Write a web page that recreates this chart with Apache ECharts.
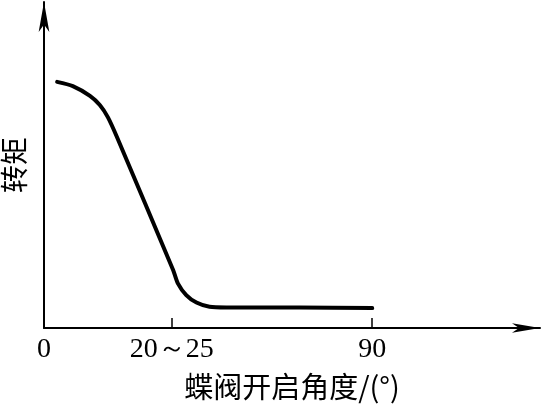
<!DOCTYPE html>
<html>
<head>
<meta charset="utf-8">
<script src="https://cdn.jsdelivr.net/npm/echarts@6/dist/echarts.min.js"></script>
<style>html,body{margin:0;padding:0;background:#fff;}#c{width:543px;height:409px;}</style>
</head>
<body>
<div id="c"></div>
<script>
// Opening angle positions (drawn scale units) and torque (relative units)
var angleX = [3.6, 7.9, 12.6, 15.3, 17.5, 20.0, 35.4, 36.7, 39.0, 41.8, 45.4, 50.0, 70.0, 90.0];
var torqueY = [75.5, 74.2, 71.2, 68.4, 64.7, 58.6, 17.8, 13.7, 10.1, 7.8, 6.5, 6.3, 6.3, 6.1];
var tickValues = [0, 35, 90];
var tickLabels = ['0', '20～25', '90'];
var xName = '蝶阀开启角度/(°)';
var yName = '转矩';

var data = angleX.map(function (x, i) { return [x, torqueY[i]]; });
var chart = echarts.init(document.getElementById('c'));
chart.setOption({
  animation: false,
  backgroundColor: '#fff',
  grid: { left: 44, right: 3, top: 2, bottom: 81, containLabel: false, outerBoundsMode: 'none' },
  xAxis: {
    type: 'value', min: 0, max: 136,
    name: xName, nameLocation: 'middle', nameGap: 44,
    nameTextStyle: { color: '#000', fontSize: 29, fontFamily: 'Noto Sans CJK SC' },
    axisLine: { lineStyle: { color: '#000', width: 2 }, symbol: ['none', 'arrow'], symbolSize: [7, 28] },
    axisTick: { show: true, inside: true, length: 10, lineStyle: { color: '#000', width: 1.5 },
      customValues: tickValues },
    axisLabel: { color: '#000', fontSize: 28, fontFamily: 'Liberation Serif', margin: 8,
      customValues: tickValues,
      formatter: function (v) { var i = tickValues.indexOf(v); return i >= 0 ? tickLabels[i] : ''; } },
    splitLine: { show: false }
  },
  yAxis: {
    type: 'value', min: 0, max: 100,
    name: yName, nameLocation: 'middle', nameGap: 16, nameRotate: 90,
    nameTextStyle: { color: '#000', fontSize: 28, fontFamily: 'Noto Sans CJK SC' },
    axisLine: { lineStyle: { color: '#000', width: 2 }, symbol: ['none', 'arrow'], symbolSize: [8, 30] },
    axisTick: { show: false },
    axisLabel: { show: false },
    splitLine: { show: false }
  },
  series: [{
    type: 'line', data: data, smooth: 0.25, showSymbol: false,
    lineStyle: { color: '#000', width: 4, cap: 'round', join: 'round' }
  }]
});
</script>
</body>
</html>
